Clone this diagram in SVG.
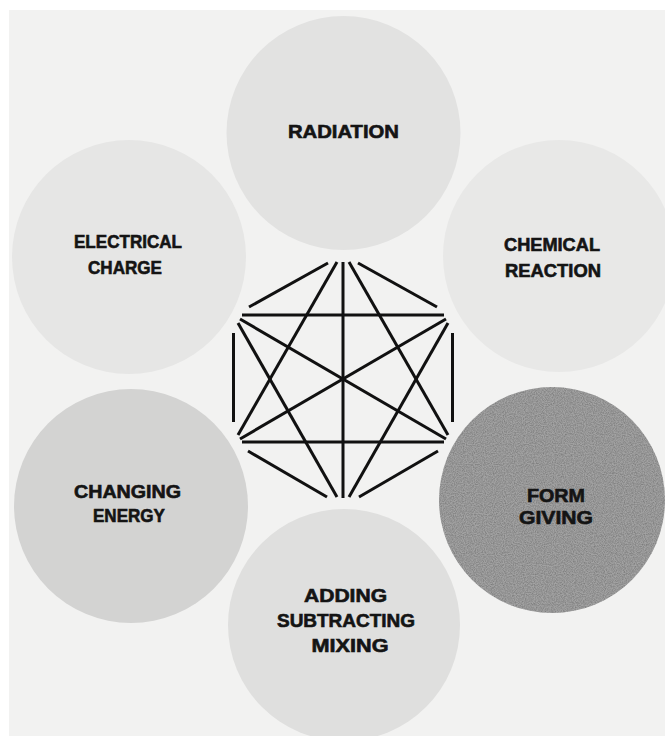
<svg xmlns="http://www.w3.org/2000/svg" width="665" height="736" viewBox="0 0 665 736">
  <style>
    .lbl { font-family: "Liberation Sans", Arial, sans-serif; font-weight: bold; font-size: 18px; fill: #141414; stroke: #141414; stroke-width: 0.6; text-anchor: middle; }
    .ln { stroke: #111; stroke-width: 3; stroke-linecap: butt; fill: none; }
  </style>
  <defs>
    <filter id="grain" x="0" y="0" width="100%" height="100%">
      <feTurbulence type="fractalNoise" baseFrequency="0.9" numOctaves="2" seed="3" result="n"/>
      <feColorMatrix in="n" type="matrix" values="0 0 0 0 0  0 0 0 0 0  0 0 0 0 0  0 0 0 -1.6 1.1"/>
    </filter>
    <clipPath id="dark">
      <circle cx="552" cy="500" r="113"/>
    </clipPath>
  </defs>
  <rect x="0" y="0" width="665" height="736" fill="#ffffff"/>
  <rect x="9" y="10" width="656" height="726" fill="#f2f2f1"/>

  <g id="radiation">
    <circle cx="343.5" cy="133" r="117" fill="#e2e2e1"/>
    <text class="lbl" x="343.5" y="138" textLength="111" lengthAdjust="spacingAndGlyphs">RADIATION</text>
  </g>
  <g id="electrical-charge">
    <circle cx="129" cy="257" r="117" fill="#e6e6e5"/>
    <text class="lbl" x="128" y="248" textLength="108" lengthAdjust="spacingAndGlyphs">ELECTRICAL</text>
    <text class="lbl" x="125" y="274" textLength="74" lengthAdjust="spacingAndGlyphs">CHARGE</text>
  </g>
  <g id="chemical-reaction">
    <circle cx="559" cy="256" r="116" fill="#e8e8e7"/>
    <text class="lbl" x="552" y="251" textLength="96" lengthAdjust="spacingAndGlyphs">CHEMICAL</text>
    <text class="lbl" x="553" y="277" textLength="96" lengthAdjust="spacingAndGlyphs">REACTION</text>
  </g>
  <g id="changing-energy">
    <circle cx="131" cy="506" r="117" fill="#d3d3d2"/>
    <text class="lbl" x="127.5" y="498" textLength="107" lengthAdjust="spacingAndGlyphs">CHANGING</text>
    <text class="lbl" x="129" y="522" textLength="72" lengthAdjust="spacingAndGlyphs">ENERGY</text>
  </g>
  <g id="form-giving">
    <circle cx="552" cy="500" r="113" fill="#a2a2a2"/>
    <rect x="439" y="387" width="226" height="226" clip-path="url(#dark)" filter="url(#grain)" opacity="0.25"/>
    <text class="lbl" x="556" y="502" textLength="58" lengthAdjust="spacingAndGlyphs">FORM</text>
    <text class="lbl" x="556" y="524" textLength="74" lengthAdjust="spacingAndGlyphs">GIVING</text>
  </g>
  <g id="adding-subtracting-mixing">
    <circle cx="344" cy="625" r="116" fill="#dfdfde"/>
    <text class="lbl" x="345.5" y="602" textLength="83" lengthAdjust="spacingAndGlyphs">ADDING</text>
    <text class="lbl" x="346" y="627" textLength="138" lengthAdjust="spacingAndGlyphs">SUBTRACTING</text>
    <text class="lbl" x="350" y="652" textLength="77" lengthAdjust="spacingAndGlyphs">MIXING</text>
  </g>

  <g id="connectors">
    <line class="ln" x1="328" y1="263" x2="249" y2="307"/>
    <line class="ln" x1="358" y1="263" x2="437" y2="307"/>
    <line class="ln" x1="233.5" y1="333" x2="233.5" y2="422"/>
    <line class="ln" x1="452.5" y1="333" x2="452.5" y2="422"/>
    <line class="ln" x1="248" y1="451" x2="327" y2="497"/>
    <line class="ln" x1="438" y1="451" x2="359" y2="497"/>
    <line class="ln" x1="343" y1="262" x2="343" y2="498"/>
    <line class="ln" x1="337" y1="262" x2="238" y2="435"/>
    <line class="ln" x1="349" y1="262" x2="448" y2="435"/>
    <line class="ln" x1="242" y1="315" x2="444" y2="315"/>
    <line class="ln" x1="242" y1="442" x2="444" y2="442"/>
    <line class="ln" x1="238" y1="323" x2="337" y2="497"/>
    <line class="ln" x1="448" y1="323" x2="349" y2="497"/>
    <line class="ln" x1="240" y1="319" x2="446" y2="439"/>
    <line class="ln" x1="446" y1="319" x2="240" y2="439"/>
  </g>
</svg>
